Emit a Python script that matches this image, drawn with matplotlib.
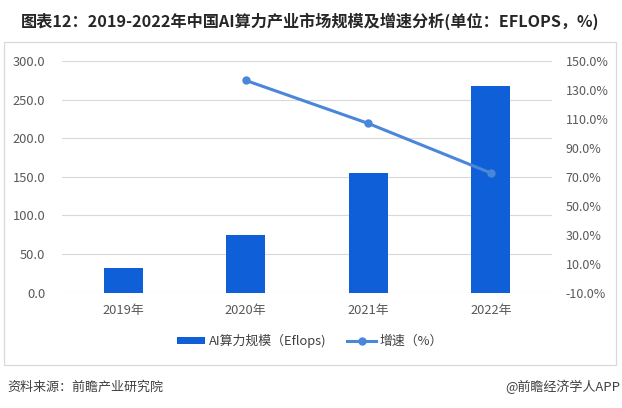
import matplotlib
matplotlib.use("Agg")
import matplotlib.pyplot as plt
import numpy as np
from matplotlib.lines import Line2D
from matplotlib.patches import Rectangle, Patch
from matplotlib.ticker import FormatStrFormatter

plt.rcParams['font.family'] = ['Noto Sans CJK SC', 'DejaVu Sans']

# data
years = ['2019年', '2020年', '2021年', '2022年']
scale = [31.7, 75.0, 155.2, 268.0]            # AI computing scale, EFLOPS
growth_years = ['2020年', '2021年', '2022年']
growth = [136.6, 106.9, 72.7]                  # growth rate, %

left_ticks = [0, 50, 100, 150, 200, 250, 300]
right_ticks = [-10, 10, 30, 50, 70, 90, 110, 130, 150]

bar_color = '#0E5FD8'
line_color = '#4A86D9'
grid_color = '#D9D9D9'
tick_color = '#595959'

W, H = 622, 408
fig = plt.figure(figsize=(W / 100, H / 100), dpi=100)

# frame box and title separator
fig.patches.append(Rectangle((4 / W, 1 - 365 / H), 612 / W, (365 - 42) / H,
                             transform=fig.transFigure, fill=False,
                             edgecolor=grid_color, linewidth=0.9))

fig.text(310.5 / W, 1 - 21 / H,
         '图表12：2019-2022年中国AI算力产业市场规模及增速分析(单位：EFLOPS，%)',
         ha='center', va='center', fontsize=11.65, fontweight='bold', color='#262626')

ax = fig.add_axes([62 / W, 1 - 292.7 / H, 490 / W, (292.7 - 61) / H])
x = np.arange(len(years))
ax.bar(x, scale, width=0.32, color=bar_color, zorder=3)
ax.set_xlim(-0.5, len(years) - 0.5)
ax.set_ylim(0, 300)
ax.set_yticks(left_ticks)
ax.yaxis.set_major_formatter(FormatStrFormatter('%.1f'))
ax.set_xticks(x)
ax.set_xticklabels(years)
ax.grid(axis='y', color=grid_color, linewidth=0.8, zorder=0)
ax.set_axisbelow(True)
for s in ax.spines.values():
    s.set_visible(False)
ax.tick_params(axis='y', length=0, pad=12, labelsize=9.3, labelcolor=tick_color)
ax.tick_params(axis='x', length=0, pad=8, labelsize=9.3, labelcolor=tick_color)

ax2 = ax.twinx()
gx = [years.index(y) for y in growth_years]
ax2.plot(gx, growth, color=line_color, linewidth=2.2, marker='o', markersize=5, zorder=4)
ax2.set_ylim(-10, 150)
ax2.set_yticks(right_ticks)
ax2.yaxis.set_major_formatter(FormatStrFormatter('%.1f%%'))
for s in ax2.spines.values():
    s.set_visible(False)
ax2.tick_params(axis='y', length=0, pad=10, labelsize=9, labelcolor=tick_color)

handles = [Patch(facecolor=bar_color, edgecolor='none'),
           Line2D([0], [0], color=line_color, linewidth=2.2, marker='o', markersize=5)]
labels = ['AI算力规模（Eflops)', '增速（%）']
fig.legend(handles, labels, loc='center', bbox_to_anchor=(310 / W, 1 - 341 / H),
           ncol=2, frameon=False, fontsize=9.3, handlelength=2.2, handleheight=0.5,
           columnspacing=1.6, handletextpad=0.3, labelcolor='#404040')

fig.text(7 / W, 1 - 387 / H, '资料来源：前瞻产业研究院', ha='left', va='center',
         fontsize=9.4, color='#404040')
fig.text(620 / W, 1 - 387 / H, '@前瞻经济学人APP', ha='right', va='center',
         fontsize=9.4, color='#404040')

fig.savefig('out.png', dpi=100, facecolor='white')
